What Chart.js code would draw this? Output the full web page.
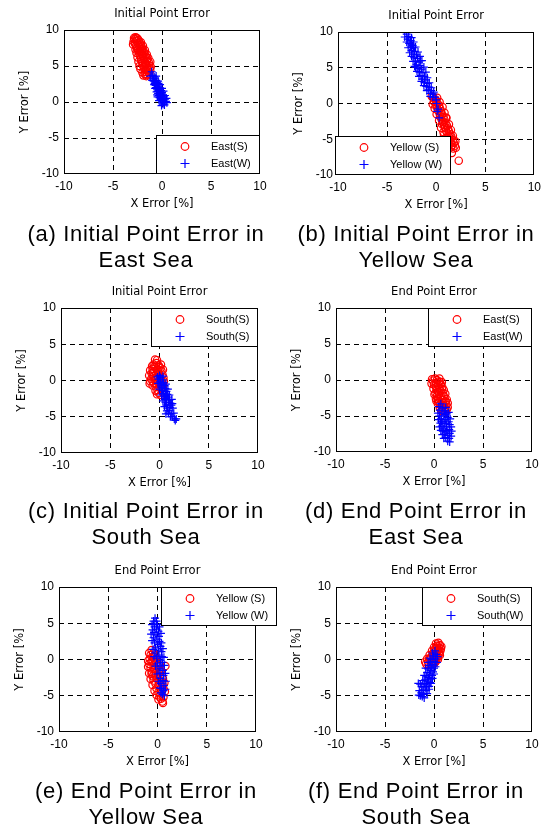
<!DOCTYPE html>
<html>
<head>
<meta charset="utf-8">
<script src="https://cdn.jsdelivr.net/npm/chart.js@4.4.1/dist/chart.umd.min.js"></script>
<style>
body { margin: 0; background: #fff; width: 547px; height: 835px; position: relative; overflow: hidden; }
canvas { position: absolute; }
.caption { position: absolute; width: 280px; text-align: center; color: #000;
  font: 22px "Liberation Sans", Arial, sans-serif; letter-spacing: 0.7px; line-height: 25.5px; white-space: nowrap; }
</style>
</head>
<body>
<script>
// (a) initial point error, East Sea
var eastInitS = [[-2.7,9.0],[-2.8,8.7],[-2.6,8.9],[-2.9,8.4],[-2.6,8.5],[-2.4,8.6],[-2.75,8.1],[-2.5,8.2],[-2.3,8.3],
  [-2.65,7.8],[-2.4,7.9],[-2.2,8.0],[-2.55,7.5],[-2.3,7.6],[-2.1,7.7],[-2.45,7.2],[-2.2,7.3],[-2.0,7.4],[-2.35,6.9],
  [-2.1,7.0],[-1.9,7.1],[-2.3,6.6],[-2.05,6.7],[-1.8,6.8],[-2.2,6.3],[-1.95,6.4],[-1.7,6.5],[-2.15,6.0],[-1.9,6.1],
  [-1.6,6.2],[-2.1,5.7],[-1.8,5.8],[-1.5,5.9],[-2.0,5.4],[-1.7,5.5],[-1.35,5.5],[-1.95,5.1],[-1.6,5.2],[-1.3,5.1],
  [-1.85,4.8],[-1.5,4.9],[-1.25,4.7],[-1.8,4.5],[-1.45,4.5],[-1.7,4.2],[-1.4,4.2],[-1.75,3.9],[-1.5,3.8],[-1.6,3.6],
  [-2.85,8.9],[-2.5,8.8],[-2.95,8.0],[-2.15,8.3],[-2.7,7.3],[-1.95,7.8],[-2.6,6.8],[-1.75,7.2],[-2.5,6.2],[-1.55,6.6],
  [-2.4,5.6],[-1.4,6.1],[-2.3,5.0],[-1.2,5.6],[-2.2,4.6],[-1.15,4.9],[-2.0,4.1],[-1.2,4.4],[-1.9,3.7],[-1.3,3.9],
  [-1.75,5.3],[-1.55,5.7],[-2.0,6.6],[-2.25,7.1],[-1.65,4.5],[-1.85,6.0]];
var eastInitW = [[-1.05,4.2],[-0.95,3.7],[-0.8,3.5],[-0.9,3.2],[-0.7,3.3],[-0.6,3.0],[-0.85,2.9],[-0.55,2.7],[-0.75,2.6],
  [-0.45,2.5],[-0.65,2.3],[-0.4,2.2],[-0.6,2.0],[-0.3,2.0],[-0.5,1.8],[-0.25,1.7],[-0.45,1.5],[-0.2,1.4],[-0.1,1.6],
  [-0.4,1.2],[-0.15,1.1],[0.0,1.3],[-0.35,0.9],[-0.1,0.8],[0.1,1.0],[-0.25,0.6],[0.0,0.5],[0.2,0.7],[-0.15,0.3],
  [0.1,0.2],[0.3,0.4],[0.0,0.0],[0.2,-0.1],[0.4,0.1],[0.1,-0.3],[-0.5,1.0],[-0.3,1.6],[-0.7,2.8],
  [-1.2,3.6],[-0.6,3.6],[-1.0,3.0],[-0.4,2.9],[-0.8,2.4],[-0.2,2.4],[-0.7,1.9],[0.0,1.9],[-0.55,1.4],[0.15,1.5],
  [-0.45,0.7],[0.3,0.9],[-0.3,0.2],[0.45,0.5],[0.25,-0.4],[0.5,-0.1],[-0.05,-0.5],[-0.35,2.6],[-0.15,0.9],[0.05,0.4]];

// (b) initial point error, Yellow Sea
var yellowInitS = [[-0.3,0.8],[-0.1,0.6],[0.0,0.3],[-0.2,0.2],[0.15,0.0],[0.0,-0.2],[0.3,-0.3],[0.1,-0.6],[0.4,-0.7],
  [0.2,-1.0],[0.5,-1.1],[0.35,-1.4],[0.6,-1.5],[0.45,-1.8],[0.75,-1.9],[0.55,-2.2],[0.85,-2.3],[0.7,-2.6],[0.95,-2.7],
  [0.8,-3.0],[1.1,-3.1],[0.9,-3.4],[1.2,-3.5],[1.0,-3.8],[1.3,-3.9],[1.15,-4.2],[1.45,-4.3],[1.3,-4.6],[1.55,-4.7],
  [1.4,-5.0],[1.7,-5.1],[1.5,-5.4],[1.8,-5.5],[1.65,-5.8],[1.9,-5.9],[1.6,-6.9],[2.3,-8.0],[0.6,-2.9],[1.0,-2.0],[1.2,-4.9],
  [-0.45,1.0],[0.1,0.8],[-0.35,-0.1],[0.35,0.2],[-0.15,-0.7],[0.65,-0.5],[0.05,-1.5],[0.85,-1.3],[0.3,-2.4],[1.05,-2.0],
  [0.5,-3.4],[1.3,-2.9],[0.75,-4.0],[1.5,-3.7],[1.0,-4.8],[1.7,-4.5],[1.25,-5.6],[1.95,-5.3],[1.5,-6.1],[2.0,-6.2],
  [1.75,-6.3],[0.8,-4.4],[1.1,-5.3],[0.4,-1.8]];
var yellowInitW = [[-3.0,9.7],[-2.8,9.4],[-2.9,9.0],[-2.6,8.8],[-2.75,8.4],[-2.5,8.3],[-2.6,7.9],[-2.3,7.8],[-2.5,7.4],
  [-2.2,7.3],[-2.35,6.9],[-2.0,6.8],[-2.25,6.4],[-1.9,6.3],[-2.1,5.9],[-1.75,5.8],[-2.0,5.4],[-1.65,5.3],[-1.85,4.9],
  [-1.5,4.8],[-1.7,4.4],[-1.35,4.3],[-1.55,3.9],[-1.2,3.8],[-1.4,3.4],[-1.05,3.3],[-1.2,2.9],[-0.85,2.8],[-1.0,2.4],
  [-0.7,2.3],[-0.8,1.9],[-0.5,1.8],[-0.6,1.4],[-0.3,1.3],[-0.35,0.9],[0.0,0.5],[0.05,0.0],[0.2,-0.8],[0.1,-1.1],
  [0.3,-2.0],[-2.4,8.1],[-1.6,6.0],[-2.1,5.1],
  [-3.2,9.3],[-2.5,9.2],[-3.0,8.6],[-2.3,8.6],[-2.85,7.8],[-2.1,7.9],[-2.7,7.1],[-1.85,7.2],[-2.5,6.6],[-1.65,6.6],
  [-2.35,5.9],[-1.45,6.0],[-2.2,5.2],[-1.25,5.1],[-1.95,4.5],[-1.05,4.4],[-1.75,3.8],[-0.9,3.6],[-1.5,3.1],[-0.7,2.9],
  [-1.25,2.5],[-0.5,2.2],[-0.95,1.8],[-0.25,1.6],[-0.6,1.0],[-0.1,0.9]];

// (c) initial point error, South Sea
var southInitS = [[-0.45,2.9],[-0.3,2.4],[-0.6,2.2],[-0.1,2.1],[-0.4,1.8],[-0.7,1.6],[0.1,1.7],[-0.2,1.5],[-0.5,1.3],
  [0.2,1.3],[-0.8,1.0],[-0.3,1.0],[0.0,0.9],[0.3,0.8],[-0.6,0.6],[-0.2,0.5],[0.1,0.4],[-0.85,0.2],[-0.45,0.1],[0.2,0.0],
  [-1.0,-0.4],[-0.6,-0.3],[-0.1,-0.2],[0.3,-0.4],[-0.4,-0.8],[0.0,-0.9],[-0.2,-1.3],[0.2,-1.2],[-0.1,-1.7],[0.1,-2.0],
  [-0.55,1.9],[0.0,1.9],[-0.7,-0.1],[-0.3,-0.5],
  [-0.25,2.8],[-0.75,2.0],[0.15,2.2],[-0.95,1.4],[0.35,1.5],[-1.05,0.7],[0.4,0.4],[-0.95,-0.1],[0.45,-0.1],
  [-0.7,-0.7],[0.35,-0.8],[-0.4,-1.4],[0.3,-1.6],[-0.25,-1.9],[-0.65,1.1],[-0.15,1.2],[-0.35,0.3],[0.05,-0.5]];
var southInitW = [[0.0,0.7],[0.1,0.4],[-0.1,0.2],[0.3,0.1],[0.05,-0.2],[0.4,-0.3],[0.15,-0.6],[0.5,-0.7],[0.25,-1.0],
  [0.6,-1.1],[0.3,-1.4],[0.7,-1.5],[0.4,-1.8],[0.8,-1.9],[0.5,-2.2],[0.9,-2.3],[0.55,-2.6],[1.0,-2.7],[0.6,-3.0],
  [1.1,-3.1],[0.7,-3.4],[1.2,-3.4],[0.8,-3.8],[1.05,-3.7],[0.75,-4.2],[1.0,-4.1],[0.9,-4.5],[1.2,-4.6],[1.3,-5.0],
  [1.5,-5.3],[1.6,-5.5],[1.3,-3.2],[0.2,-0.9],[0.6,-2.0],
  [-0.2,0.5],[0.35,0.6],[-0.15,-0.4],[0.65,-0.5],[0.0,-1.2],[0.85,-1.2],[0.2,-2.0],[1.0,-2.0],[0.35,-2.8],
  [1.25,-2.6],[0.5,-3.6],[1.35,-3.8],[0.65,-4.6],[1.1,-5.0],[1.7,-5.3],[1.45,-4.5],[0.9,-3.0],[0.7,-2.5]];

// (d) end point error, East Sea
var eastEndS = [[0.1,0.2],[0.3,0.0],[-0.1,-0.1],[0.5,-0.2],[0.2,-0.4],[0.0,-0.6],[0.4,-0.7],[0.7,-0.6],[0.2,-1.0],
  [0.55,-1.1],[0.85,-1.0],[0.3,-1.4],[0.65,-1.5],[0.15,-1.8],[0.5,-1.9],[0.9,-1.8],[0.3,-2.2],[0.7,-2.3],[1.0,-2.2],
  [0.4,-2.6],[0.8,-2.7],[1.1,-2.6],[0.5,-3.0],[0.9,-3.1],[1.2,-3.0],[0.6,-3.4],[1.0,-3.5],[1.25,-3.4],[0.8,-3.8],
  [1.15,-3.9],[1.0,-4.2],[1.3,-4.1],[0.25,-2.9],[0.6,-0.3],
  [-0.2,0.1],[0.55,0.2],[-0.25,-0.5],[0.8,-0.3],[-0.05,-1.2],[1.0,-1.4],[0.05,-2.0],[1.15,-1.9],[0.2,-2.6],
  [1.3,-2.7],[0.4,-3.3],[1.4,-3.2],[0.6,-3.9],[1.4,-3.8],[0.75,-4.3],[1.2,-4.4],[0.45,-1.6],[0.8,-1.3]];
var eastEndW = [[0.7,-3.3],[0.9,-3.9],[0.6,-4.2],[1.1,-4.3],[0.8,-4.6],[1.3,-4.7],[0.55,-5.0],[1.0,-5.0],[1.4,-5.2],
  [0.7,-5.4],[1.2,-5.5],[0.9,-5.8],[1.5,-5.8],[0.65,-6.0],[1.1,-6.1],[1.6,-6.2],[0.8,-6.4],[1.3,-6.5],[1.0,-6.8],
  [1.55,-6.9],[0.9,-7.1],[1.2,-7.2],[1.6,-7.4],[1.05,-7.5],[1.4,-7.7],[1.2,-8.0],[1.55,-8.1],[1.4,-8.5],[1.3,-7.0],[0.75,-5.7],
  [0.5,-3.7],[1.2,-3.8],[0.4,-4.6],[1.5,-4.5],[0.45,-5.5],[1.65,-5.4],[0.55,-6.5],[1.75,-6.5],[0.7,-7.0],[1.8,-7.1],
  [0.85,-7.6],[1.75,-7.8],[1.0,-8.1],[1.6,-8.6],[1.15,-4.8],[1.25,-6.0]];

// (e) end point error, Yellow Sea
var yellowEndS = [[-0.6,1.3],[-0.45,0.9],[-0.7,0.6],[-0.4,0.4],[-0.8,0.1],[-0.3,0.0],[-0.6,-0.3],[-0.1,-0.4],[-0.85,-0.6],
  [-0.4,-0.8],[0.0,-0.9],[0.8,-0.9],[-0.7,-1.2],[-0.2,-1.3],[0.2,-1.4],[-0.6,-1.7],[-0.3,-1.9],[0.1,-2.0],[-0.5,-2.3],
  [0.3,-2.3],[-0.1,-2.6],[-0.4,-2.9],[0.2,-2.9],[0.45,-3.1],[-0.2,-3.3],[0.1,-3.6],[0.5,-3.5],[-0.1,-4.0],[0.3,-4.1],
  [0.6,-4.0],[0.1,-4.5],[0.4,-4.7],[0.2,-5.1],[0.1,-5.5],[0.5,-5.8],[0.55,-6.0],[-0.5,-0.1],[-0.6,-2.0],
  [-0.85,0.9],[-0.25,0.7],[-0.95,-0.2],[-0.15,0.1],[-0.95,-1.0],[0.25,-0.8],[-0.85,-1.9],[0.35,-1.6],[-0.7,-2.7],
  [0.55,-2.6],[-0.5,-3.5],[0.7,-3.2],[-0.3,-4.3],[0.75,-4.4],[-0.1,-4.9],[0.6,-5.2],[0.35,-5.4],[-0.2,-2.2]];
var yellowEndW = [[-0.25,5.7],[-0.1,5.3],[-0.35,5.0],[0.0,4.8],[-0.3,4.5],[-0.5,4.1],[-0.1,4.2],[0.1,3.9],[-0.35,3.7],
  [-0.15,3.4],[0.15,3.2],[-0.4,3.0],[-0.05,2.8],[0.2,2.5],[-0.3,2.3],[0.05,2.1],[0.3,1.8],[-0.2,1.6],[0.1,1.3],
  [0.4,1.1],[-0.25,0.9],[0.15,0.6],[0.45,0.4],[-0.1,0.2],[0.3,-0.1],[0.5,-0.4],[0.0,-0.6],[0.35,-0.9],[0.15,-1.3],
  [0.55,-1.5],[0.25,-1.9],[0.6,-2.2],[0.3,-2.6],[0.55,-2.9],[0.35,-3.3],[0.65,-3.6],[0.4,-4.0],[0.6,-4.3],[0.5,-4.8],[-0.4,5.3],
  [-0.55,4.8],[0.2,4.5],[-0.65,3.5],[0.35,3.6],[-0.55,2.6],[0.4,2.3],[-0.45,1.4],[0.55,1.5],[-0.35,0.4],[0.65,0.3],
  [-0.2,-0.9],[0.7,-0.8],[-0.05,-2.0],[0.8,-1.9],[0.1,-3.0],[0.85,-3.0],[0.25,-3.9],[0.8,-4.1],[0.35,-4.6],[0.7,-5.0]];

// (f) end point error, South Sea
var southEndS = [[0.45,2.3],[0.6,2.0],[0.3,1.9],[0.5,1.6],[0.15,1.5],[0.4,1.3],[0.65,1.2],[0.0,1.1],[0.3,0.9],
  [0.55,0.8],[-0.15,0.7],[0.15,0.5],[0.4,0.4],[-0.3,0.3],[0.0,0.1],[0.25,0.0],[-0.45,-0.1],[-0.15,-0.2],[0.1,-0.4],
  [-0.6,-0.4],[-0.3,-0.6],[-0.8,-0.6],[0.35,1.6],[0.2,1.2],[-0.5,0.1],
  [0.2,2.2],[0.75,1.8],[0.0,1.7],[0.7,1.5],[-0.2,1.2],[0.6,0.6],[-0.45,0.6],[0.4,0.0],[-0.7,0.1],[0.15,-0.3],
  [-0.9,-0.3],[-0.1,-0.6],[-0.5,-0.8],[0.5,1.0],[0.1,0.8]];
var southEndW = [[0.1,1.2],[0.2,0.7],[-0.05,0.5],[0.15,0.1],[-0.2,0.0],[0.0,-0.3],[-0.35,-0.4],[-0.1,-0.7],[-0.5,-0.8],
  [-0.25,-1.1],[0.0,-1.2],[-0.6,-1.3],[-0.35,-1.5],[-0.1,-1.7],[-0.7,-1.8],[-0.45,-2.0],[-0.2,-2.2],[-0.8,-2.3],
  [-0.55,-2.5],[-0.3,-2.7],[-0.9,-2.8],[-0.65,-3.0],[-0.4,-3.2],[-1.0,-3.3],[-0.75,-3.5],[-1.4,-3.4],[-0.5,-3.7],
  [-0.9,-3.9],[-1.1,-4.2],[-0.8,-4.3],[-1.3,-4.6],[-1.1,-4.8],[-1.4,-5.0],[-1.2,-5.1],
  [-0.15,0.9],[0.35,0.4],[-0.4,0.2],[0.3,-0.4],[-0.6,-0.4],[0.15,-1.0],[-0.85,-1.2],[0.0,-2.0],[-1.0,-2.2],
  [-0.15,-2.6],[-1.15,-2.9],[-0.3,-3.3],[-1.25,-3.7],[-0.5,-4.1],[-1.5,-4.3],[-0.7,-4.7],[-1.55,-4.9],[-1.0,-5.3],[-1.6,-3.3]];

var axisTicks = [-10, -5, 0, 5, 10];
var panelTitles = ['Initial Point Error', 'Initial Point Error', 'Initial Point Error',
  'End Point Error', 'End Point Error', 'End Point Error'];
var legendLabels = [['East(S)', 'East(W)'], ['Yellow (S)', 'Yellow (W)'], ['South(S)', 'South(S)'],
  ['East(S)', 'East(W)'], ['Yellow (S)', 'Yellow (W)'], ['South(S)', 'South(W)']];
var captions = [['(a) Initial Point Error in', 'East Sea'], ['(b) Initial Point Error in', 'Yellow Sea'],
  ['(c) Initial Point Error in', 'South Sea'], ['(d) End Point Error in', 'East Sea'],
  ['(e) End Point Error in', 'Yellow Sea'], ['(f) End Point Error in', 'South Sea']];
var seriesS = [eastInitS, yellowInitS, southInitS, eastEndS, yellowEndS, southEndS];
var seriesW = [eastInitW, yellowInitW, southInitW, eastEndW, yellowEndW, southEndW];

// where each panel sits on the page: canvas origin, plot box [left, right, top, bottom], legend corner
var panelLayout = [
  {x0: 0,   y0: 0,   w: 280, area: [64, 260, 30, 174],   corner: 'br', dx: 0,  capX: 146, capY: 234},
  {x0: 272, y0: 0,   w: 275, area: [338, 535, 32, 175],  corner: 'bl', dx: -3, capX: 416, capY: 234},
  {x0: 0,   y0: 280, w: 280, area: [61, 258, 308, 453],  corner: 'tr', dx: 0,  capX: 146, capY: 511},
  {x0: 272, y0: 280, w: 275, area: [336, 532, 308, 452], corner: 'tr', dx: 0,  capX: 416, capY: 511},
  {x0: 0,   y0: 555, w: 280, area: [59, 256, 587, 732],  corner: 'tr', dx: 21, capX: 146, capY: 791},
  {x0: 272, y0: 555, w: 275, area: [336, 532, 587, 732], corner: 'tr', dx: 0,  capX: 416, capY: 791}
];
var canvasHeight = 225;
var yAxisWidth = 50;
var xAxisHeight = 40;
var titleBox = 23;

var labelFont = {family: '"DejaVu Sans", sans-serif', size: 11.5, weight: 'normal', lineHeight: '14px'};
var tickFont = {family: '"Liberation Sans", Arial, sans-serif', size: 12, lineHeight: '14px'};

// solid box round the axes plus a MATLAB-like framed legend
var boxLegend = {
  id: 'boxLegend',
  afterDraw: function (chart, args, opts) {
    var ctx = chart.ctx;
    var ca = chart.chartArea;
    ctx.save();
    ctx.strokeStyle = '#000';
    ctx.lineWidth = 1;
    ctx.strokeRect(Math.round(ca.left) + 0.5, Math.round(ca.top) + 0.5,
      Math.round(ca.right - ca.left) - 1, Math.round(ca.bottom - ca.top) - 1);

    ctx.font = '11px "Liberation Sans", Arial, sans-serif';
    var sets = chart.data.datasets;
    var textW = Math.max.apply(null, sets.map(function (d) { return ctx.measureText(d.label).width; }));
    var w = Math.round(55 + textW + 9);
    var h = 39;
    var x = opts.corner.indexOf('r') >= 0 ? Math.round(ca.right) - w : Math.round(ca.left);
    var y = opts.corner.indexOf('b') >= 0 ? Math.round(ca.bottom) - h : Math.round(ca.top);
    x += opts.dx || 0;
    ctx.fillStyle = '#fff';
    ctx.fillRect(x, y, w, h);
    ctx.strokeRect(x + 0.5, y + 0.5, w - 1, h - 1);

    sets.forEach(function (d, i) {
      var cy = y + (i === 0 ? 11.5 : 28.5);
      var mx = x + 29;
      ctx.strokeStyle = d.pointBorderColor;
      ctx.lineWidth = 1.2;
      ctx.beginPath();
      if (d.pointStyle === 'circle') {
        ctx.arc(mx, cy, 3.8, 0, Math.PI * 2);
      } else {
        ctx.moveTo(mx - 4.5, cy); ctx.lineTo(mx + 4.5, cy);
        ctx.moveTo(mx, cy - 4.5); ctx.lineTo(mx, cy + 4.5);
      }
      ctx.stroke();
      ctx.fillStyle = '#000';
      ctx.textBaseline = 'middle';
      ctx.fillText(d.label, x + 55, cy);
    });
    ctx.restore();
  }
};

function toPoints(arr) {
  return arr.map(function (p) { return {x: p[0], y: p[1]}; });
}

function makeScale(axisTitle, isY) {
  return {
    type: 'linear',
    min: -10,
    max: 10,
    afterBuildTicks: function (scale) {
      scale.ticks = axisTicks.map(function (v) { return {value: v}; });
    },
    afterFit: function (scale) {
      if (isY) scale.width = yAxisWidth; else scale.height = xAxisHeight;
    },
    ticks: {color: '#000', font: tickFont, padding: isY ? 5 : 6},
    grid: {
      drawTicks: false,
      lineWidth: 1,
      color: function (c) { return Math.abs(c.tick.value) === 10 ? 'rgba(0,0,0,0)' : '#000'; }
    },
    border: {display: false, dash: [5, 4]},
    title: {
      display: true,
      text: axisTitle,
      color: '#000',
      font: labelFont,
      padding: isY ? {top: 4, bottom: 0} : {top: 0, bottom: 3}
    }
  };
}

function drawPanel(i) {
  var lay = panelLayout[i];
  var canvas = document.createElement('canvas');
  canvas.width = lay.w;
  canvas.height = canvasHeight;
  canvas.style.left = lay.x0 + 'px';
  canvas.style.top = lay.y0 + 'px';
  document.body.appendChild(canvas);

  var left = lay.area[0] - lay.x0, right = lay.area[1] - lay.x0;
  var top = lay.area[2] - lay.y0, bottom = lay.area[3] - lay.y0;

  new Chart(canvas, {
    type: 'scatter',
    data: {
      datasets: [{
        label: legendLabels[i][0],
        data: toPoints(seriesS[i]),
        pointStyle: 'circle',
        pointRadius: 3.7,
        pointBorderWidth: 1.2,
        pointBorderColor: '#ff0000',
        pointBackgroundColor: 'rgba(0,0,0,0)',
        order: 2
      }, {
        label: legendLabels[i][1],
        data: toPoints(seriesW[i]),
        pointStyle: 'cross',
        pointRadius: 4,
        pointBorderWidth: 1.2,
        pointBorderColor: '#0000ff',
        pointBackgroundColor: '#0000ff',
        order: 1
      }]
    },
    options: {
      responsive: false,
      animation: false,
      events: [],
      layout: {
        padding: {
          left: left - yAxisWidth,
          right: lay.w - right,
          top: top - titleBox,
          bottom: canvasHeight - bottom - xAxisHeight
        }
      },
      plugins: {
        legend: {display: false},
        tooltip: {enabled: false},
        title: {
          display: true,
          text: panelTitles[i],
          fullSize: false,
          color: '#000',
          font: labelFont,
          padding: {top: 0, bottom: 9}
        },
        boxLegend: {corner: lay.corner, dx: lay.dx}
      },
      scales: {
        x: makeScale('X Error [%]', false),
        y: makeScale('Y Error [%]', true)
      }
    },
    plugins: [boxLegend]
  });

  var cap = document.createElement('div');
  cap.className = 'caption';
  cap.style.left = (lay.capX - 140) + 'px';
  cap.style.top = (lay.capY - 12.75) + 'px';
  cap.innerHTML = captions[i][0] + '<br>' + captions[i][1];
  document.body.appendChild(cap);
}

for (var i = 0; i < panelLayout.length; i++) drawPanel(i);
</script>
</body>
</html>
